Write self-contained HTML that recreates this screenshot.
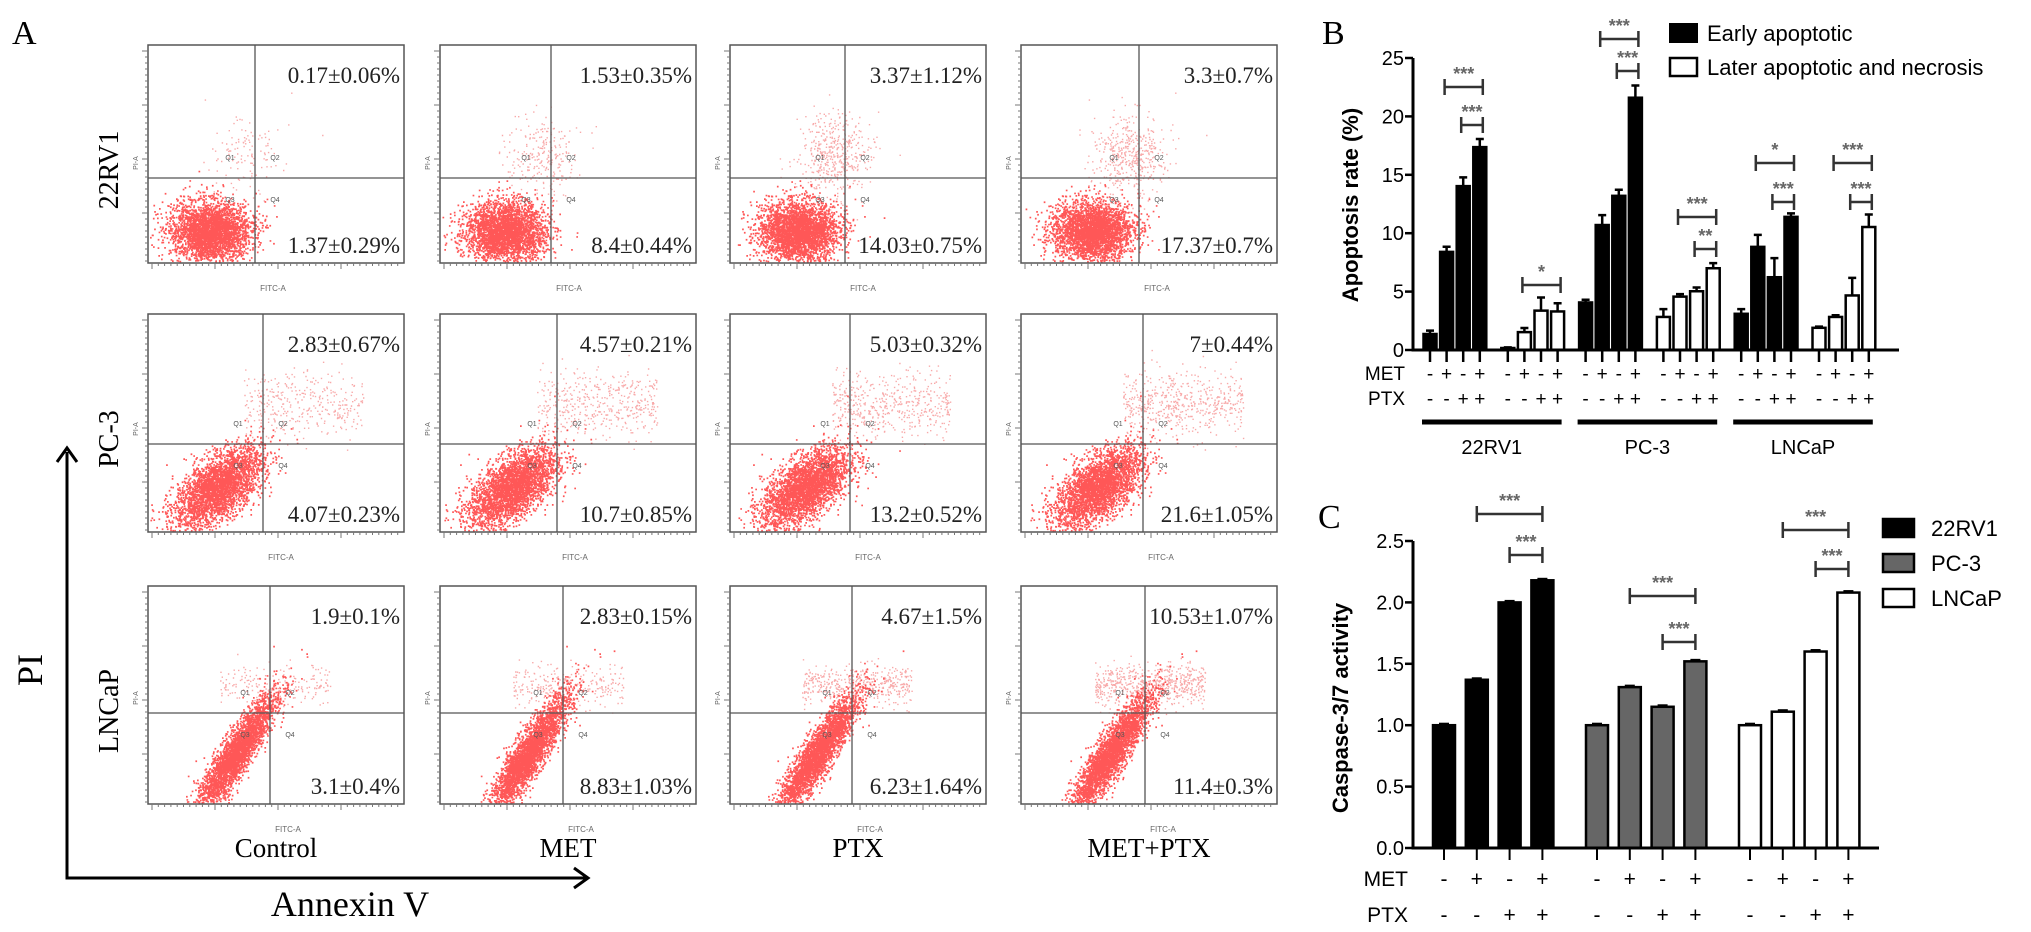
<!DOCTYPE html>
<html><head><meta charset="utf-8"><style>
html,body{margin:0;padding:0;background:#fff;}
svg{display:block;}
.ser{font-family:"Liberation Serif",serif;}
.san{font-family:"Liberation Sans",sans-serif;}
</style></head><body>
<svg id="fig" width="2031" height="932" viewBox="0 0 2031 932" xmlns="http://www.w3.org/2000/svg">
<g id="panelA"></g>
<g id="panelB"></g>
<g id="panelC"></g>
</svg>
<script>
// ===== Panel A data =====
const aRows = ["22RV1","PC-3","LNCaP"];
const aCols = ["Control","MET","PTX","MET+PTX"];
const aUpper = [["0.17±0.06%","1.53±0.35%","3.37±1.12%","3.3±0.7%"],
                ["2.83±0.67%","4.57±0.21%","5.03±0.32%","7±0.44%"],
                ["1.9±0.1%","2.83±0.15%","4.67±1.5%","10.53±1.07%"]];
const aLower = [["1.37±0.29%","8.4±0.44%","14.03±0.75%","17.37±0.7%"],
                ["4.07±0.23%","10.7±0.85%","13.2±0.52%","21.6±1.05%"],
                ["3.1±0.4%","8.83±1.03%","6.23±1.64%","11.4±0.3%"]];
// ===== Panel B data =====
const bGroups = ["22RV1","PC-3","LNCaP"];
const bMet = ["-","+","-","+"];
const bPtx = ["-","-","+","+"];
const bEarly = [[1.37,8.4,14.03,17.37],[4.07,10.7,13.2,21.6],[3.1,8.83,6.23,11.4]];
const bEarlyErr = [[0.29,0.44,0.75,0.7],[0.23,0.85,0.52,1.05],[0.4,1.03,1.64,0.3]];
const bLate = [[0.17,1.53,3.37,3.3],[2.83,4.57,5.03,7],[1.9,2.83,4.67,10.53]];
const bLateErr = [[0.06,0.35,1.12,0.7],[0.67,0.21,0.32,0.44],[0.1,0.15,1.5,1.07]];
const bTicks = [0,5,10,15,20,25];
// ===== Panel C data =====
const cGroups = ["22RV1","PC-3","LNCaP"];
const cValues = [[1.0,1.37,2.0,2.18],[1.0,1.31,1.15,1.52],[1.0,1.11,1.6,2.08]];
const cTicks = [0,0.5,1.0,1.5,2.0,2.5];
const cTickLabels = ["0.0","0.5","1.0","1.5","2.0","2.5"];
const cFills = ["#000","#666","#fff"];

const NS="http://www.w3.org/2000/svg";
function mk(tag,attrs,parent,txt){const e=document.createElementNS(NS,tag);for(const k in attrs)e.setAttribute(k,attrs[k]);if(txt!==undefined)e.textContent=txt;parent.appendChild(e);return e;}

// ===== Panel A =====
const A=document.getElementById('panelA');
let t=mk('text',{x:12,y:44,'font-size':34,class:'ser'},A,'A');


const colX=[148,440,730,1021], rowY=[45,314,586], BW=256, BH=218;
const vOff=[[107,111,115,118],[115,117,120,122],[122,123,122,124]];
const hOff=[133,130,127];
const upperN=[[120,250,450,450],[350,450,500,550],[200,260,450,650]];
let seed=12345;function rnd(){seed=(seed*1103515245+12345)&0x7fffffff;return seed/0x7fffffff;}
function gauss(){let u=rnd()||1e-6,v=rnd();return Math.sqrt(-2*Math.log(u))*Math.cos(6.2832*v);}
for(let r=0;r<3;r++){for(let c=0;c<4;c++){
  const x0=colX[c],y0=rowY[r];
  const g=mk('g',{},A);
  
  
  let pts='',pts2='';
  const n=3200;
  const vx=x0+vOff[r][c], hy=y0+hOff[r];
  for(let i=0;i<n;i++){
    let a=gauss(),b=gauss(),px,py;
    if(r===0){px=x0+62+c*3+a*20;py=y0+BH-32+b*15;}
    else if(r===1){const rho=0.6;px=vx-45+a*22;py=y0+BH-45-(rho*a+0.8*b)*20;}
    else {const rho=0.9;px=vx-35+a*20;py=y0+BH-50-(rho*a+0.44*b)*30;}
    if(px<x0+2||px>x0+BW-2||py<y0+2||py>y0+BH-2)continue;
    pts+='M'+px.toFixed(1)+' '+py.toFixed(1)+'h1.7v1.7h-1.7z';
  }
  for(let i=0;i<upperN[r][c];i++){
    let px,py;
    if(r===0){px=vx-10+gauss()*18;py=hy-25+gauss()*20;}
    else if(r===1){px=vx-20+rnd()*120;py=hy-40+gauss()*16;}
    else {px=vx-50+rnd()*110;py=hy-28+gauss()*10;}
    if(px<x0+2||px>x0+BW-2||py<y0+2||py>y0+BH-2)continue;
    pts2+='M'+px.toFixed(1)+' '+py.toFixed(1)+'h1.4v1.4h-1.4z';
  }
  let d=mk('path',{d:pts,fill:'#ff1010','fill-opacity':0.7},g);
  
  
  let d2=mk('path',{d:pts2,fill:'#f04040','fill-opacity':0.45},g);
  
  
  let bx=mk('rect',{x:x0,y:y0,width:BW,height:BH,fill:'none',stroke:'#555','stroke-width':1.5},g);
  
  
  let vl=mk('line',{x1:vx,x2:vx,y1:y0,y2:y0+BH,stroke:'#555','stroke-width':1.3},g);
  
  
  let hl=mk('line',{x1:x0,x2:x0+BW,y1:hy,y2:hy,stroke:'#555','stroke-width':1.3},g);
  
  
  let tk='';
  for(let k=0;k<40;k++){const xx=x0+4+k*6.3;tk+='M'+xx+' '+(y0+BH)+'v'+(k%10===0?6:3);}
  for(let k=0;k<36;k++){const yy=y0+6+k*6;tk+='M'+x0+' '+yy+'h-'+(k%9===0?6:3);}
  mk('path',{d:tk,stroke:'#777','stroke-width':1,fill:'none'},g);
  let ft=mk('text',{x:vx+18,y:y0+BH+28,'font-size':8,fill:'#666',class:'san','text-anchor':'middle'},g,'FITC-A');
  
  
  let pa=mk('text',{x:x0-10,y:hy-15,'font-size':7,fill:'#666',class:'san','text-anchor':'middle',transform:'rotate(-90 '+(x0-10)+' '+(hy-15)+')'},g,'PI-A');
  
  
  for(const [qx,qy,q] of [[-25,-18,'Q1'],[20,-18,'Q2'],[-25,24,'Q3'],[20,24,'Q4']]){
    mk('text',{x:vx+qx,y:hy+qy,'font-size':7,fill:'#555',class:'san','text-anchor':'middle'},g,q);
  }
  let up=mk('text',{x:x0+BW-4,y:y0+38,'font-size':23,class:'ser','text-anchor':'end',fill:'#222'},g,aUpper[r][c]);
  
  
  let lo=mk('text',{x:x0+BW-4,y:y0+BH-10,'font-size':23,class:'ser','text-anchor':'end',fill:'#222'},g,aLower[r][c]);
  
  
}}
for(let r=0;r<3;r++){
  const yy=rowY[r]+125;
  let rl=mk('text',{x:118,y:yy,'font-size':28,class:'ser','text-anchor':'middle',transform:'rotate(-90 118 '+yy+')'},A,aRows[r]);
  
  
}
for(let c=0;c<4;c++){
  let cl=mk('text',{x:colX[c]+BW/2,y:857,'font-size':27,class:'ser','text-anchor':'middle'},A,aCols[c]);
  
  
}
let ax=mk('path',{d:'M67 452V878H588M57 462L67 448L77 462M574 868L588 878L574 888',fill:'none',stroke:'#000','stroke-width':3},A);


let pi=mk('text',{x:42,y:670,'font-size':36,class:'ser','text-anchor':'middle',transform:'rotate(-90 42 670)'},A,'PI');


let an=mk('text',{x:350,y:916,'font-size':36,class:'ser','text-anchor':'middle'},A,'Annexin V');



// ===== Panel B =====
const B=document.getElementById('panelB');
const bY0=350,bY25=58;
function by(v){return bY0-(bY0-bY25)*v/25;}
const bStart=1430,bGroupPitch=77.8,bBarPitch=16.6,bBarW=13;
function bx(sub,i){return bStart+sub*bGroupPitch+i*bBarPitch;}
t=mk('text',{x:1322,y:44,'font-size':34,class:'ser'},B,'B');


for(let s=0;s<6;s++){
  const g=Math.floor(s/2), late=s%2===1;
  const vals=late?bLate[g]:bEarly[g], errs=late?bLateErr[g]:bEarlyErr[g];
  for(let i=0;i<4;i++){
    const cx=bx(s,i),top=by(vals[i]),et=by(vals[i]+errs[i]);
    let e=mk('path',{d:'M'+cx+' '+top+'V'+et+'M'+(cx-4)+' '+et+'H'+(cx+4),stroke:'#000','stroke-width':2.5,fill:'none'},B);
    
    
    let rc=mk('rect',{x:cx-bBarW/2,y:top,width:bBarW,height:bY0-top,fill:late?'#fff':'#000',stroke:'#000','stroke-width':2.5},B);
    
    
    mk('line',{x1:cx,x2:cx,y1:bY0,y2:bY0+12,stroke:'#000','stroke-width':2.5},B);
    mk('text',{x:cx,y:380,'font-size':19,class:'san','text-anchor':'middle'},B,bMet[i]);
    mk('text',{x:cx,y:405,'font-size':19,class:'san','text-anchor':'middle'},B,bPtx[i]);
  }
}
let bax=mk('path',{d:'M1413 '+bY25+'V'+bY0+'H1899',stroke:'#000','stroke-width':3,fill:'none'},B);


bTicks.forEach(v=>{
  mk('line',{x1:1405,x2:1413,y1:by(v),y2:by(v),stroke:'#000','stroke-width':2.5},B);
  let tl=mk('text',{x:1404,y:by(v)+7,'font-size':20,class:'san','text-anchor':'end'},B,String(v));
  
  
});
let byt=mk('text',{x:1358,y:205,'font-size':22,'font-weight':'bold',class:'san','text-anchor':'middle',transform:'rotate(-90 1358 205)'},B,'Apoptosis rate (%)');


mk('text',{x:1405,y:380,'font-size':19,class:'san','text-anchor':'end'},B,'MET');
mk('text',{x:1405,y:405,'font-size':19,class:'san','text-anchor':'end'},B,'PTX');
for(let g=0;g<3;g++){
  const x1=bx(2*g,0)-8,x2=bx(2*g+1,3)+4;
  mk('line',{x1:x1,x2:x2,y1:422,y2:422,stroke:'#000','stroke-width':5},B);
  let gl=mk('text',{x:(x1+x2)/2,y:454,'font-size':20,class:'san','text-anchor':'middle'},B,bGroups[g]);
  
  
}
const bSig=[[0,1,3,87,'***'],[0,2,3,125,'***'],[1,1,3,285,'*'],[2,1,3,39,'***'],[2,2,3,71,'***'],
            [3,1,3,217,'***'],[3,2,3,249,'**'],[4,1,3,163,'*'],[4,2,3,202,'***'],[5,1,3,163,'***'],[5,2,3,202,'***']];
function bracket(par,x1,x2,y,stars,name){
  const g=mk('g',{},par);
  
  
  mk('path',{d:'M'+x1+' '+(y-8)+'V'+(y+8)+'M'+x1+' '+y+'H'+x2+'M'+x2+' '+(y-8)+'V'+(y+8),stroke:'#333','stroke-width':2.5,fill:'none'},g);
  mk('text',{x:(x1+x2)/2,y:y-7,'font-size':18,'font-weight':'bold',fill:'#666',class:'san','text-anchor':'middle'},g,stars);
}
bSig.forEach(s=>bracket(B,bx(s[0],s[1])-2,bx(s[0],s[2])+3,s[3],s[4],'b-significance-bracket'));
let lg=mk('g',{},B);


mk('rect',{x:1670,y:24,width:27,height:18,fill:'#000',stroke:'#000','stroke-width':2},lg);
mk('text',{x:1707,y:41,'font-size':22,class:'san'},lg,'Early apoptotic');
mk('rect',{x:1670,y:58,width:27,height:18,fill:'#fff',stroke:'#000','stroke-width':2.5},lg);
mk('text',{x:1707,y:75,'font-size':22,class:'san'},lg,'Later apoptotic and necrosis');

// ===== Panel C =====
const C=document.getElementById('panelC');
const cY0=848,cYTop=541;
function cy(v){return cY0-(cY0-cYTop)*v/2.5;}
const cStart=1444,cGroupPitch=153,cBarPitch=32.8,cBarW=22;
function cxf(g,i){return cStart+g*cGroupPitch+i*cBarPitch;}
t=mk('text',{x:1318,y:528,'font-size':34,class:'ser'},C,'C');


for(let g=0;g<3;g++){for(let i=0;i<4;i++){
  const x=cxf(g,i),top=cy(cValues[g][i]);
  let rc=mk('rect',{x:x-cBarW/2,y:top,width:cBarW,height:cY0-top,fill:cFills[g],stroke:'#000','stroke-width':2.5},C);
  
  
  mk('line',{x1:x-5,x2:x+5,y1:top-1,y2:top-1,stroke:'#000','stroke-width':3},C);
  mk('line',{x1:x,x2:x,y1:cY0,y2:cY0+12,stroke:'#000','stroke-width':2},C);
  mk('text',{x:x,y:886,'font-size':21,class:'san','text-anchor':'middle'},C,bMet[i]);
  mk('text',{x:x,y:922,'font-size':21,class:'san','text-anchor':'middle'},C,bPtx[i]);
}}
let cax=mk('path',{d:'M1413 '+cYTop+'V'+cY0+'H1879',stroke:'#000','stroke-width':3,fill:'none'},C);


cTicks.forEach((v,k)=>{
  mk('line',{x1:1405,x2:1413,y1:cy(v),y2:cy(v),stroke:'#000','stroke-width':2.5},C);
  let tl=mk('text',{x:1404,y:cy(v)+7,'font-size':20,class:'san','text-anchor':'end'},C,cTickLabels[k]);
  
  
});
let cyt=mk('text',{x:1348,y:708,'font-size':22,'font-weight':'bold',class:'san','text-anchor':'middle',transform:'rotate(-90 1348 708)'},C,'Caspase-3/7 activity');


mk('text',{x:1408,y:886,'font-size':21,class:'san','text-anchor':'end'},C,'MET');
mk('text',{x:1408,y:922,'font-size':21,class:'san','text-anchor':'end'},C,'PTX');
const cSig=[[0,1,3,514,'***'],[0,2,3,555,'***'],[1,1,3,596,'***'],[1,2,3,642,'***'],[2,1,3,530,'***'],[2,2,3,569,'***']];
cSig.forEach(s=>bracket(C,cxf(s[0],s[1]),cxf(s[0],s[2]),s[3],s[4],'c-significance-bracket'));
let cl=mk('g',{},C);


cGroups.forEach((n,k)=>{
  const yy=[519,554,589][k];
  mk('rect',{x:1883,y:yy,width:31,height:18,fill:cFills[k],stroke:'#000','stroke-width':2.5},cl);
  mk('text',{x:1931,y:yy+17,'font-size':22,class:'san'},cl,n);
});
</script>
</body></html>
